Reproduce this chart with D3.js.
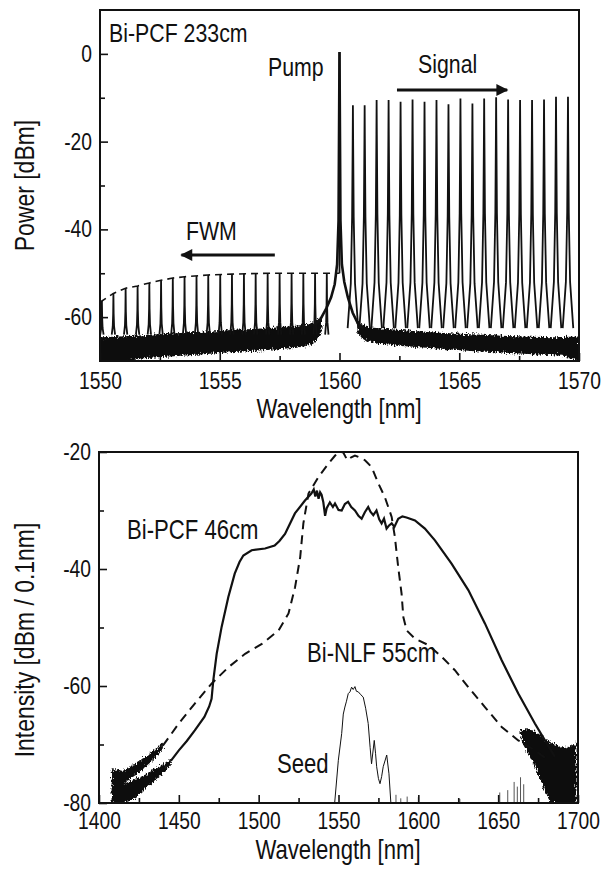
<!DOCTYPE html>
<html>
<head>
<meta charset="utf-8">
<script src="https://cdn.jsdelivr.net/npm/d3@7"></script>
<style>
  body { margin: 0; background: #fff; }
  text { font-family: "Liberation Sans", Arial, sans-serif; fill: #111; }
</style>
</head>
<body>
<svg id="chart" width="605" height="869"></svg>
<script>
const width = 605;
const height = 869;
const ink = "#111";
const narrow = 0.82; // the figure uses a condensed Helvetica

// ---------- top panel : Bi-PCF 233cm ----------
const pumpPeak = [1560.0, 0.4];

const signalWl = [1560.56, 1561.05, 1561.55, 1562.05, 1562.55, 1563.05, 1563.55, 1564.05, 1564.55, 1565.05,
                  1565.55, 1566.04, 1566.54, 1567.04, 1567.54, 1568.04, 1568.54, 1569.04, 1569.54];
const signalDbm = [-11.7, -11.7, -10.5, -10.5, -10.9, -10.4, -10.9, -10.5, -11.5, -10.2,
                   -11.3, -10.2, -9.9, -10.4, -10.5, -10.5, -10.4, -9.8, -9.8];

const fwmWl = [1550.08, 1550.56, 1551.07, 1551.57, 1552.06, 1552.55, 1553.04, 1553.53, 1554.03, 1554.52,
               1555.02, 1555.51, 1556.01, 1556.50, 1557.00, 1557.50, 1558.00, 1558.49, 1558.98, 1559.47];
const fwmDbm = [-56.3, -54.6, -53.4, -52.9, -52.2, -51.6, -51.1, -50.8, -50.6, -50.4,
                -50.3, -50.2, -50.1, -50.1, -50.0, -50.0, -50.0, -50.0, -50.0, -50.0];

// dashed envelope over the FWM tops
const fwmEnvelope = [[1550.0, -56.6], [1550.56, -54.6], [1551.07, -53.4], [1551.57, -52.9], [1552.06, -52.2],
                     [1552.55, -51.6], [1553.04, -51.1], [1553.53, -50.8], [1554.5, -50.4], [1555.5, -50.2],
                     [1557.0, -50.0], [1560.0, -50.0]];

// pump skirt (several traces on top of each other)
const pumpSkirt = [[1558.9, -62.0], [1559.2, -60.5], [1559.45, -58.0], [1559.65, -55.5], [1559.8, -52.5],
                   [1559.9, -48.0], [1559.96, -38.0], [1560.0, 0.4], [1560.04, -38.0], [1560.1, -48.0],
                   [1560.2, -52.0], [1560.35, -55.5], [1560.55, -59.0], [1560.8, -61.8], [1561.0, -62.5]];

// noise floor band, upper edge then lower edge
const noiseLeftUpper = [[1550.0, -64.6], [1550.8, -64.4], [1551.6, -64.2], [1552.4, -63.9], [1553.2, -63.7],
  [1554.0, -63.4], [1554.8, -63.2], [1555.6, -62.9], [1556.4, -62.7], [1557.2, -62.4], [1558.0, -62.1],
  [1558.6, -61.7], [1559.0, -61.0], [1559.25, -59.8]];
const noiseLeftLower = [[1559.25, -63.5], [1558.9, -66.2], [1558.2, -67.0], [1557.4, -67.3], [1556.6, -67.6],
  [1555.8, -67.9], [1555.0, -68.2], [1554.2, -68.5], [1553.4, -68.8], [1552.6, -69.1], [1551.8, -69.4],
  [1551.2, -70.0], [1550.0, -70.0]];
const noiseRightUpper = [[1560.75, -61.0], [1561.2, -62.3], [1562.0, -62.7], [1563.0, -63.1], [1564.0, -63.5],
  [1565.0, -63.8], [1566.0, -64.0], [1567.0, -64.3], [1568.0, -64.5], [1569.0, -64.6], [1570.0, -64.4]];
const noiseRightLower = [[1570.0, -70.0], [1569.3, -68.8], [1568.5, -68.6], [1567.5, -68.3], [1566.5, -68.0],
  [1565.5, -67.7], [1564.5, -67.3], [1563.5, -66.9], [1562.5, -66.5], [1561.6, -66.0], [1561.0, -65.2],
  [1560.75, -63.5]];

const topXTicks = [1550, 1555, 1560, 1565, 1570];
const topXMinor = [1552.5, 1557.5, 1562.5, 1567.5];
const topYTicks = [0, -20, -40, -60];
const topYMinor = [-10, -30, -50];

// ---------- bottom panel : supercontinuum ----------
const pcf46 = [[1445, -72.8], [1450, -71.0], [1455, -69.4], [1460, -67.6], [1466, -65.3], [1469, -63.5], [1470.5, -62.2],
  [1471.6, -59.0], [1473.7, -54.5], [1476.8, -49.9], [1481, -44.8], [1485, -40.8], [1488, -38.8], [1490.4, -37.7],
  [1495.6, -36.8], [1504, -36.5], [1510, -36.0], [1513, -35.2], [1516.5, -34.0], [1522.7, -30.5], [1529, -28.3],
  [1533, -27.1], [1534.5, -26.4], [1535.5, -27.6], [1536.5, -26.6], [1537.5, -28.0], [1538.5, -26.9], [1539.4, -27.3],
  [1540.5, -28.6], [1541.6, -30.9], [1542.6, -29.6], [1544.6, -28.6], [1546.5, -29.4], [1547.8, -28.8], [1550, -29.9],
  [1552, -30.0], [1554, -28.9], [1556, -28.5], [1558, -29.4], [1560.3, -30.0], [1562.5, -30.9], [1564.5, -31.4],
  [1566.5, -30.3], [1568.6, -29.4], [1570, -30.2], [1571.8, -30.8], [1573.8, -30.0], [1575.5, -31.5], [1577, -32.2],
  [1578.5, -31.4], [1580.1, -33.1], [1581.5, -32.6], [1583.3, -32.2], [1585, -32.8], [1587.4, -31.4], [1590, -31.0],
  [1592.6, -31.2], [1597.9, -31.7], [1604.1, -33.1], [1610.4, -35.1], [1620.8, -39.1], [1631.3, -43.6], [1641.7, -49.3],
  [1652.2, -55.6], [1662.6, -61.3], [1673, -66.4], [1679.3, -69.3], [1685.5, -72.1]];
const nlf55 = [[1440, -70.2], [1450, -66.4], [1460, -63.0], [1470.5, -59.6], [1481, -56.8], [1491.5, -54.5], [1502, -52.8],
  [1512.5, -50.5], [1518.7, -47.6], [1522.8, -43.1], [1526, -38.0], [1528, -32.2], [1531.2, -27.1], [1537.4, -24.3],
  [1543.7, -22.0], [1547.9, -20.6], [1550.5, -19.9], [1553, -20.1], [1555.5, -21.4], [1558, -20.9], [1560.3, -20.6],
  [1563, -20.9], [1566.6, -21.4], [1570.8, -22.6], [1575, -25.4], [1579, -27.7], [1583.3, -31.1], [1585.3, -34.5],
  [1587.4, -39.7], [1589.5, -44.2], [1590.6, -48.2], [1592.7, -50.5], [1597.9, -51.9], [1606.2, -53.0], [1614.6, -55.0],
  [1622.9, -57.3], [1631.3, -60.2], [1641.7, -63.6], [1652.2, -67.0], [1662.6, -69.3], [1673, -71.0], [1681, -72.6]];
const seed = [[1547.6, -80.0], [1549.9, -72.7], [1552, -68.1], [1553, -64.8], [1554, -63.6], [1555, -62.6], [1556.1, -61.3],
  [1557.2, -61.0], [1558.2, -60.2], [1559.2, -60.6], [1560.3, -60.1], [1561.2, -60.9], [1562.4, -61.0], [1564, -61.5],
  [1565.5, -61.9], [1567, -63.8], [1568.6, -66.4], [1569.8, -70.5], [1570.7, -73.3], [1572.4, -69.3], [1573.2, -71.5],
  [1573.9, -73.8], [1575, -75.8], [1576, -76.7], [1577, -75.5], [1578, -73.8], [1580.2, -71.8], [1581.6, -75.0],
  [1582.8, -80.0]];

// noisy ends of the traces, upper edge then lower edge
const pcfNoiseUpper = [[1408, -76.4], [1415, -76.8], [1420, -76.2], [1425, -75.7], [1430, -75.0], [1435, -74.2],
  [1440, -73.4], [1445, -72.4]];
const pcfNoiseLower = [[1445, -73.4], [1440, -74.9], [1435, -76.1], [1430, -77.3], [1425, -78.6], [1420, -79.6],
  [1415, -80.0], [1408, -80.0]];
const nlfNoiseUpper = [[1408, -74.2], [1415, -74.5], [1420, -73.7], [1425, -72.9], [1430, -71.9], [1435, -70.9],
  [1440, -69.7]];
const nlfNoiseLower = [[1440, -70.8], [1435, -72.4], [1430, -73.6], [1425, -74.8], [1420, -75.8], [1415, -76.9],
  [1411, -80.0], [1408, -80.0]];
const tailNoiseUpper = [[1664, -67.5], [1668, -67.4], [1672, -67.6], [1676, -68.3], [1680, -69.2], [1684, -69.8],
  [1688, -70.3], [1692, -70.6], [1696, -70.2], [1699, -69.6]];
const tailNoiseLower = [[1699, -80.0], [1683, -80.0], [1680, -78.5], [1677, -76.5], [1674, -74.5], [1670, -72.0],
  [1666, -70.2], [1664, -68.5]];
const floorSpikes = [[1586, -78.6], [1589, -79.2], [1593, -78.9], [1600, -79.0], [1626, -79.3], [1651, -78.2], [1656, -77.8],
  [1660, -76.4], [1662, -77.2], [1664, -75.6], [1666, -76.8]];

const botXTicks = [1400, 1450, 1500, 1550, 1600, 1650, 1700];
const botXMinor = [1425, 1475, 1525, 1575, 1625, 1675];
const botYTicks = [-20, -40, -60, -80];
const botYMinor = [-30, -50, -70];

// ---------- scales ----------
const xTop = d3.scaleLinear().domain([1550, 1570]).range([100, 579]);
const yTop = d3.scaleLinear().domain([-70, 10]).range([361, 10]);
const xBot = d3.scaleLinear().domain([1400, 1700]).range([99, 578]);
const yBot = d3.scaleLinear().domain([-80, -20]).range([803, 452]);

const svg = d3.select("#chart");
svg.append("rect").attr("width", width).attr("height", height).attr("fill", "#fff");

const defs = svg.append("defs");
defs.append("clipPath").attr("id", "clipTop").append("rect")
  .attr("x", 100).attr("y", 10).attr("width", 479).attr("height", 351);
defs.append("clipPath").attr("id", "clipBot").append("rect")
  .attr("x", 99).attr("y", 452).attr("width", 479).attr("height", 351);
defs.append("marker").attr("id", "arrow").attr("viewBox", "0 0 10 10")
  .attr("refX", 9).attr("refY", 5).attr("markerWidth", 5).attr("markerHeight", 4)
  .attr("markerUnits", "strokeWidth").attr("orient", "auto")
  .append("path").attr("d", "M0,0 L10,5 L0,10 Z").attr("fill", ink);

// ragged edge for the dense noise traces
const rough = defs.append("filter").attr("id", "rough")
  .attr("x", "-5%").attr("y", "-30%").attr("width", "110%").attr("height", "160%");
rough.append("feTurbulence").attr("type", "fractalNoise").attr("baseFrequency", "0.9 0.35")
  .attr("numOctaves", 2).attr("seed", 4).attr("result", "n");
rough.append("feDisplacementMap").attr("in", "SourceGraphic").attr("in2", "n")
  .attr("scale", 7).attr("xChannelSelector", "R").attr("yChannelSelector", "G");

function band(x, y, upper, lower) {
  const pts = upper.concat(lower);
  return "M" + pts.map(d => `${x(d[0])},${y(d[1])}`).join("L") + "Z";
}

// one narrow line shape per spectral line
function peak(x, y, wl, top, floor, hw) {
  const h = top - floor;
  const pts = [[wl - hw, floor], [wl - hw * 0.4, floor + h * 0.2], [wl - hw * 0.15, floor + h * 0.5],
               [wl - hw * 0.04, floor + h * 0.85], [wl, top],
               [wl + hw * 0.04, floor + h * 0.85], [wl + hw * 0.15, floor + h * 0.5],
               [wl + hw * 0.4, floor + h * 0.2], [wl + hw, floor]];
  return d3.line().x(d => x(d[0])).y(d => y(d[1]))(pts);
}

// squeeze text horizontally around its anchor
function condense(sel, k) {
  sel.each(function () {
    const t = d3.select(this);
    const x = +t.attr("x") || 0;
    t.attr("x", x / k).attr("transform", (t.attr("transform") || "") + ` scale(${k},1)`);
  });
}

function label(g, x, y, txt, size, anchor) {
  const t = g.append("text").attr("x", x).attr("y", y).attr("font-size", size)
    .attr("text-anchor", anchor || "start").text(txt);
  condense(t, narrow);
  return t;
}

function drawAxes(g, x, y, xt, xm, yt, ym, pad) {
  const ax = g.append("g");
  ax.append("g").attr("transform", `translate(0,${y.range()[0]})`)
    .call(d3.axisBottom(x).tickValues(xt).tickSize(-8).tickPadding(pad).tickFormat(d3.format("d")));
  ax.append("g").attr("transform", `translate(0,${y.range()[0]})`)
    .call(d3.axisBottom(x).tickValues(xm).tickSize(-5).tickFormat(""));
  ax.append("g").attr("transform", `translate(${x.range()[0]},0)`)
    .call(d3.axisLeft(y).tickValues(yt).tickSize(-8).tickPadding(8).tickFormat(d => String(d)));
  ax.append("g").attr("transform", `translate(${x.range()[0]},0)`)
    .call(d3.axisLeft(y).tickValues(ym).tickSize(-5).tickFormat(""));
  ax.selectAll(".domain").remove();
  ax.selectAll(".tick line").attr("stroke", ink).attr("stroke-width", 1.6);
  const tt = ax.selectAll(".tick text").attr("font-size", 23.5).attr("fill", ink).attr("font-family", null);
  condense(tt, narrow);
  g.append("rect")
    .attr("x", x.range()[0]).attr("y", y.range()[1])
    .attr("width", x.range()[1] - x.range()[0]).attr("height", y.range()[0] - y.range()[1])
    .attr("fill", "none").attr("stroke", ink).attr("stroke-width", 2);
}

// ---------- top panel ----------
const gt = svg.append("g");
const pt = gt.append("g").attr("clip-path", "url(#clipTop)");

const noiseTop = pt.append("g").attr("filter", "url(#rough)");
noiseTop.append("path").attr("d", band(xTop, yTop, noiseLeftUpper, noiseLeftLower)).attr("fill", ink);
noiseTop.append("path").attr("d", band(xTop, yTop, noiseRightUpper, noiseRightLower)).attr("fill", ink);

pt.selectAll(".fwm").data(fwmWl).enter().append("path")
  .attr("class", "fwm")
  .attr("d", (d, i) => peak(xTop, yTop, d, fwmDbm[i], -64, 0.07))
  .attr("fill", "none").attr("stroke", ink).attr("stroke-width", 1.8);

pt.append("path")
  .attr("d", d3.line().x(d => xTop(d[0])).y(d => yTop(d[1]))(fwmEnvelope))
  .attr("fill", "none").attr("stroke", ink).attr("stroke-width", 1.6).attr("stroke-dasharray", "7,5");

pt.selectAll(".sig").data(signalWl).enter().append("path")
  .attr("class", "sig")
  .attr("d", (d, i) => peak(xTop, yTop, d, signalDbm[i], -62.5, 0.22))
  .attr("fill", "none").attr("stroke", ink).attr("stroke-width", 1.8);

pt.append("path")
  .attr("d", d3.line().x(d => xTop(d[0])).y(d => yTop(d[1]))(pumpSkirt))
  .attr("fill", "none").attr("stroke", ink).attr("stroke-width", 2.6);
pt.append("line")
  .attr("x1", xTop(pumpPeak[0])).attr("x2", xTop(pumpPeak[0]))
  .attr("y1", yTop(-50)).attr("y2", yTop(pumpPeak[1]))
  .attr("stroke", ink).attr("stroke-width", 1.8);

drawAxes(gt, xTop, yTop, topXTicks, topXMinor, topYTicks, topYMinor, 11);

label(gt, 109, 42, "Bi-PCF 233cm", 26);
label(gt, 268, 76, "Pump", 26);
label(gt, 418, 73, "Signal", 26);
label(gt, 186, 240, "FWM", 26);
gt.append("line").attr("x1", xTop(1562.4)).attr("x2", xTop(1567.0)).attr("y1", 90).attr("y2", 90)
  .attr("stroke", ink).attr("stroke-width", 3).attr("marker-end", "url(#arrow)");
gt.append("line").attr("x1", xTop(1557.3)).attr("x2", xTop(1553.4)).attr("y1", 255).attr("y2", 255)
  .attr("stroke", ink).attr("stroke-width", 3).attr("marker-end", "url(#arrow)");

label(gt, 339, 418, "Wavelength [nm]", 27, "middle");
const pTitle = gt.append("text").attr("transform", `translate(34,${(10 + 361) / 2}) rotate(-90)`)
  .attr("text-anchor", "middle").attr("font-size", 28).text("Power [dBm]");
condense(pTitle, narrow);

// ---------- bottom panel ----------
const gb = svg.append("g");
const pb = gb.append("g").attr("clip-path", "url(#clipBot)");
const lineB = d3.line().x(d => xBot(d[0])).y(d => yBot(d[1]));

pb.selectAll(".spike").data(floorSpikes).enter().append("line")
  .attr("x1", d => xBot(d[0])).attr("x2", d => xBot(d[0]))
  .attr("y1", yBot(-80)).attr("y2", d => yBot(d[1]))
  .attr("stroke", "#555").attr("stroke-width", 1);

const noiseBot = pb.append("g").attr("filter", "url(#rough)");
noiseBot.append("path").attr("d", band(xBot, yBot, nlfNoiseUpper, nlfNoiseLower)).attr("fill", ink);
noiseBot.append("path").attr("d", band(xBot, yBot, pcfNoiseUpper, pcfNoiseLower)).attr("fill", ink);
noiseBot.append("path").attr("d", band(xBot, yBot, tailNoiseUpper, tailNoiseLower)).attr("fill", ink);

pb.append("path").attr("d", lineB(nlf55))
  .attr("fill", "none").attr("stroke", ink).attr("stroke-width", 2).attr("stroke-dasharray", "9,6");
pb.append("path").attr("d", lineB(pcf46))
  .attr("fill", "none").attr("stroke", ink).attr("stroke-width", 2.2);
pb.append("path").attr("d", lineB(seed))
  .attr("fill", "none").attr("stroke", ink).attr("stroke-width", 1);

drawAxes(gb, xBot, yBot, botXTicks, botXMinor, botYTicks, botYMinor, 9);

label(gb, 127, 539, "Bi-PCF 46cm", 27);
label(gb, 307, 662, "Bi-NLF 55cm", 27);
label(gb, 277, 773, "Seed", 27);

label(gb, 338, 859, "Wavelength [nm]", 27, "middle");
const iTitle = gb.append("text").attr("transform", `translate(34,640) rotate(-90)`)
  .attr("text-anchor", "middle").attr("font-size", 28).text("Intensity [dBm / 0.1nm]");
condense(iTitle, narrow);
</script>
</body>
</html>
